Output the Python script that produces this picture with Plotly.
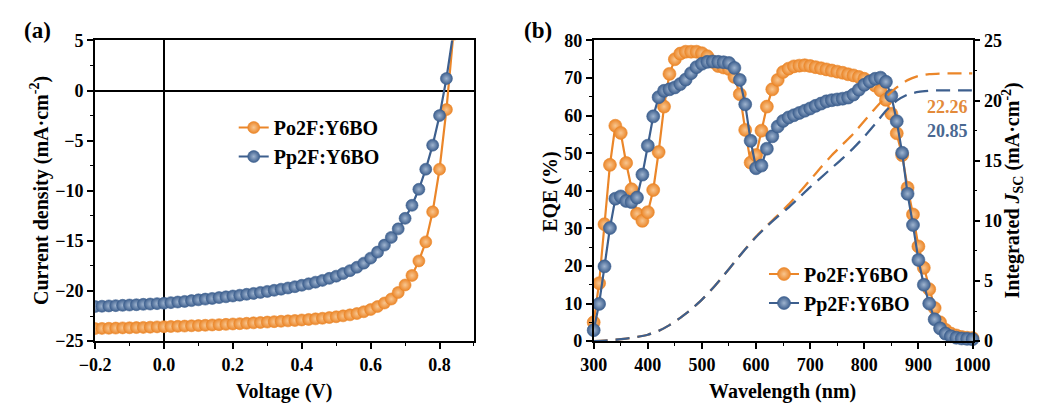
import plotly.graph_objects as go

# ---------------- (a) J-V curves ----------------
voltage = [-0.20, -0.18, -0.16, -0.14, -0.12, -0.10, -0.08, -0.06, -0.04, -0.02,
           0.00, 0.02, 0.04, 0.06, 0.08, 0.10, 0.12, 0.14, 0.16, 0.18,
           0.20, 0.22, 0.24, 0.26, 0.28, 0.30, 0.32, 0.34, 0.36, 0.38,
           0.40, 0.42, 0.44, 0.46, 0.48, 0.50, 0.52, 0.54, 0.56, 0.58,
           0.60, 0.62, 0.64, 0.66, 0.68, 0.70, 0.72, 0.74, 0.76, 0.78,
           0.80, 0.82, 0.84]
j_po2f = [-23.75, -23.73, -23.72, -23.70, -23.68, -23.67, -23.65, -23.63, -23.61, -23.58,
          -23.56, -23.54, -23.52, -23.50, -23.47, -23.45, -23.42, -23.39, -23.36, -23.33,
          -23.29, -23.26, -23.22, -23.18, -23.14, -23.10, -23.06, -23.02, -22.98, -22.94,
          -22.89, -22.84, -22.78, -22.72, -22.65, -22.57, -22.48, -22.38, -22.25, -22.07,
          -21.85, -21.55, -21.20, -20.80, -20.15, -19.40, -18.45, -17.00, -15.10, -12.10,
          -7.85, -1.90, 5.60]
j_pp2f = [-21.55, -21.52, -21.49, -21.46, -21.43, -21.40, -21.37, -21.33, -21.30, -21.26,
          -21.22, -21.16, -21.10, -21.04, -20.96, -20.88, -20.81, -20.74, -20.66, -20.58,
          -20.50, -20.42, -20.33, -20.24, -20.14, -20.04, -19.93, -19.82, -19.70, -19.57,
          -19.43, -19.28, -19.12, -18.94, -18.74, -18.52, -18.26, -17.97, -17.63, -17.22,
          -16.72, -16.12, -15.42, -14.65, -13.80, -12.75, -11.45, -9.85, -7.85, -5.45,
          -2.50, 1.20, 5.80]

# ---------------- (b) EQE spectra ----------------
wavelength = [300, 310, 320, 330, 340, 350, 360, 370, 380, 390,
              400, 410, 420, 430, 440, 450, 460, 470, 480, 490,
              500, 510, 520, 530, 540, 550, 560, 570, 580, 590,
              600, 610, 620, 630, 640, 650, 660, 670, 680, 690,
              700, 710, 720, 730, 740, 750, 760, 770, 780, 790,
              800, 810, 820, 830, 840, 850, 860, 870, 880, 890,
              900, 910, 920, 930, 940, 950, 960, 970, 980, 990, 1000]
eqe_po2f = [5.0, 15.4, 31.1, 46.9, 57.3, 55.4, 47.4, 40.4, 33.9, 32.0,
            34.3, 40.2, 50.3, 62.4, 71.1, 75.0, 76.5, 77.0, 77.0, 77.0,
            76.6, 75.8, 74.3, 73.2, 72.8, 72.4, 70.3, 65.7, 56.2, 47.5,
            49.5, 56.0, 62.4, 67.0, 69.5, 71.6, 72.5, 73.1, 73.3, 73.4,
            73.2, 72.9, 72.6, 72.3, 72.0, 71.7, 71.4, 71.0, 70.7, 70.3,
            69.8, 69.0, 68.0, 66.7, 64.2, 60.5, 55.3, 49.5, 40.8, 33.7,
            25.2, 19.5, 13.8, 8.8, 5.0, 3.0, 2.0, 1.5, 1.1, 0.9, 0.8]
eqe_pp2f = [2.9, 9.9, 19.9, 30.1, 37.9, 38.5, 37.3, 37.0, 38.2, 44.3,
            52.0, 59.8, 64.9, 66.6, 67.0, 67.5, 68.4, 69.6, 71.3, 72.9,
            73.8, 74.3, 74.4, 74.3, 74.2, 74.0, 72.7, 69.5, 63.0, 53.3,
            46.0, 46.7, 51.2, 54.5, 57.1, 58.6, 59.5, 60.1, 60.7, 61.3,
            61.9, 62.6, 63.2, 63.8, 64.1, 64.3, 64.5, 64.8, 65.6, 66.9,
            68.2, 69.1, 69.8, 70.1, 69.0, 65.3, 58.5, 50.1, 39.2, 30.9,
            21.6, 15.0, 10.0, 5.8, 3.4, 2.0, 1.3, 0.9, 0.7, 0.6, 0.5]

# integrated short-circuit current (mA cm^-2)
wl_int = [300, 320, 340, 360, 380, 400, 420, 440, 460, 480,
          500, 520, 540, 560, 580, 600, 620, 640, 660, 680,
          700, 720, 740, 760, 780, 800, 820, 840, 860, 880,
          900, 920, 940, 960, 980, 1000]
jsc_po2f = [0.0, 0.04, 0.11, 0.21, 0.34, 0.53, 0.85, 1.33, 1.93, 2.63,
            3.45, 4.40, 5.45, 6.55, 7.65, 8.70, 9.60, 10.45, 11.35, 12.35,
            13.40, 14.45, 15.45, 16.35, 17.25, 18.30, 19.35, 20.30, 21.10, 21.70,
            22.05, 22.20, 22.25, 22.26, 22.26, 22.26]
jsc_pp2f = [0.0, 0.04, 0.11, 0.21, 0.34, 0.53, 0.85, 1.33, 1.93, 2.63,
            3.45, 4.40, 5.45, 6.55, 7.63, 8.65, 9.55, 10.35, 11.10, 11.95,
            12.80, 13.60, 14.40, 15.20, 16.05, 17.00, 18.05, 19.15, 20.00, 20.50,
            20.72, 20.82, 20.85, 20.85, 20.85, 20.85]

names = ["Po2F:Y6BO", "Pp2F:Y6BO"]

ORANGE = "#EB8629"
BLUE = "#3D5F8E"
ORANGE_HL = "#F8C690"
BLUE_HL = "#9FB4CF"
FONT = "Liberation Serif"
W, H = 1051, 412


def px(x):
    return x / W


def py(y):
    return 1 - y / H


def ball(color, hl, size):
    return dict(size=size, color=color,
                gradient=dict(type="radial", color=hl),
                line=dict(width=0.6, color=color))


fig = go.Figure()

# J-V
for v, j, c, hl, n in [(voltage, j_po2f, ORANGE, ORANGE_HL, names[0]),
                       (voltage, j_pp2f, BLUE, BLUE_HL, names[1])]:
    fig.add_trace(go.Scatter(x=v, y=j, mode="lines+markers", name=n,
                             line=dict(color=c, width=2.2),
                             marker=ball(c, hl, 12),
                             xaxis="x", yaxis="y", legend="legend"))

# integrated Jsc (dashed, right axis)
for jj, c in [(jsc_po2f, ORANGE), (jsc_pp2f, BLUE)]:
    fig.add_trace(go.Scatter(x=wl_int, y=jj, mode="lines", showlegend=False,
                             line=dict(color=c, width=2.3, dash="14px,8px", shape="spline", smoothing=0.6),
                             xaxis="x2", yaxis="y3", cliponaxis=False))

# EQE
for e, c, hl, n in [(eqe_po2f, ORANGE, ORANGE_HL, names[0]),
                    (eqe_pp2f, BLUE, BLUE_HL, names[1])]:
    fig.add_trace(go.Scatter(x=wavelength, y=e, mode="lines+markers", name=n,
                             line=dict(color=c, width=2.2),
                             marker=ball(c, hl, 13),
                             xaxis="x2", yaxis="y2", legend="legend2", cliponaxis=False))

tickfont = dict(family=FONT, size=18, color="black", weight="bold")
axis_common = dict(showline=True, linecolor="black", linewidth=1.8,
                   ticks="outside", ticklen=6, tickwidth=1.6, tickcolor="black",
                   showgrid=False, tickfont=tickfont, zeroline=False)

ya_top, ya_bot = 32, 348
dom_y = [py(ya_bot), py(ya_top)]

fig.update_layout(
    width=W, height=H,
    margin=dict(l=0, r=0, t=0, b=0),
    paper_bgcolor="white", plot_bgcolor="white",
    font=dict(family=FONT, color="black", weight="bold"),
    xaxis=dict(domain=[px(81.7), px(473.3)], range=[-0.2, 0.9], dtick=0.2, tick0=-0.2,
               tickformat=".1f", anchor="y", mirror=True,
               zeroline=True, zerolinecolor="black", zerolinewidth=1.6,
               minor=dict(ticks="outside", ticklen=3, tickwidth=1.4, tickcolor="black", dtick=0.1),
               **{k: v for k, v in axis_common.items() if k != "zeroline"}),
    yaxis=dict(domain=dom_y, range=[-25, 5], dtick=5, anchor="x", mirror=True,
               zeroline=True, zerolinecolor="black", zerolinewidth=1.6,
               minor=dict(ticks="outside", ticklen=3, tickwidth=1.4, tickcolor="black", dtick=2.5),
               **{k: v for k, v in axis_common.items() if k != "zeroline"}),
    xaxis2=dict(domain=[px(597), px(988.5)], range=[300, 1000], dtick=100, anchor="y2", mirror=True,
                minor=dict(ticks="outside", ticklen=3, tickwidth=1.4, tickcolor="black", dtick=50),
                **axis_common),
    yaxis2=dict(domain=dom_y, range=[0, 80], dtick=10, anchor="x2",
                minor=dict(ticks="outside", ticklen=3, tickwidth=1.4, tickcolor="black", dtick=5),
                **axis_common),
    yaxis3=dict(range=[0, 25], dtick=5, anchor="x2", overlaying="y2", side="right",
                minor=dict(ticks="outside", ticklen=3, tickwidth=1.4, tickcolor="black", dtick=2.5),
                **axis_common),
    legend=dict(x=px(225), y=py(103), xanchor="left", yanchor="top",
                bgcolor="rgba(0,0,0,0)", borderwidth=0, tracegroupgap=0,
                font=dict(family=FONT, size=20, color="black", weight="bold")),
    legend2=dict(x=px(773), y=py(257), xanchor="left", yanchor="top",
                 bgcolor="rgba(0,0,0,0)", borderwidth=0, tracegroupgap=0,
                 font=dict(family=FONT, size=20, color="black", weight="bold")),
)

ann_font = dict(family=FONT, color="black", weight="bold")
annotations = [
    dict(text="(a)", x=px(6), y=py(22), xanchor="left", yanchor="middle",
         font=dict(size=23, **ann_font)),
    dict(text="(b)", x=px(523), y=py(22), xanchor="left", yanchor="middle",
         font=dict(size=23, **ann_font)),
    dict(text="Voltage (V)", x=px(277), y=py(401), xanchor="center", yanchor="middle",
         font=dict(size=20, **ann_font)),
    dict(text="Current density (mA·cm<sup>-2</sup>)", x=px(25), y=py(190), textangle=-90,
         xanchor="center", yanchor="middle", font=dict(size=20, **ann_font)),
    dict(text="Wavelength (nm)", x=px(792), y=py(401), xanchor="center", yanchor="middle",
         font=dict(size=20, **ann_font)),
    dict(text="EQE (%)", x=px(553), y=py(191), textangle=-90,
         xanchor="center", yanchor="middle", font=dict(size=20, **ann_font)),
    dict(text="Integrated <i>J</i><sub>SC</sub> (mA·cm<sup>-2</sup>)", x=px(1030), y=py(190),
         textangle=-90, xanchor="center", yanchor="middle", font=dict(size=20, **ann_font)),
    dict(text=f"{jsc_po2f[-1]:.2f}", x=px(986), y=py(102), xanchor="right", yanchor="middle",
         font=dict(family=FONT, size=18, color="#E38A3A", weight="bold")),
    dict(text=f"{jsc_pp2f[-1]:.2f}", x=px(986), y=py(127), xanchor="right", yanchor="middle",
         font=dict(family=FONT, size=18, color="#4A6891", weight="bold")),
]
for a in annotations:
    a.update(xref="paper", yref="paper", showarrow=False)
fig.update_layout(annotations=annotations)

fig.write_html("out.html")
